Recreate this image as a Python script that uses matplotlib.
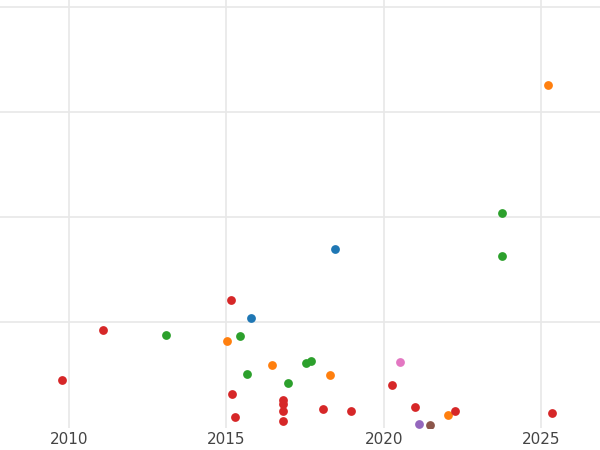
import matplotlib
matplotlib.use("Agg")
import matplotlib.pyplot as plt

blue_x = [2018.45, 2015.78]
blue_y = [1.695, 1.038]
orange_x = [2025.21, 2015.02, 2016.44, 2018.29, 2022.03]
orange_y = [3.257, 0.819, 0.590, 0.495, 0.105]
green_x = [2023.75, 2023.75, 2013.08, 2015.43, 2015.65, 2017.52, 2017.68, 2016.95]
green_y = [2.038, 1.629, 0.876, 0.867, 0.505, 0.610, 0.629, 0.410]
red_x = [2009.78, 2011.08, 2015.14, 2015.18, 2015.27, 2016.79, 2016.79, 2016.79, 2016.79,
         2018.06, 2018.95, 2020.25, 2020.98, 2022.25, 2025.33]
red_y = [0.448, 0.924, 1.210, 0.314, 0.086, 0.257, 0.210, 0.152, 0.048,
         0.162, 0.143, 0.400, 0.181, 0.152, 0.124]
pink_x, pink_y = [2020.51], [0.619]
purple_x, purple_y = [2021.11], [0.019]
brown_x, brown_y = [2021.46], [0.010]

series = [(blue_x, blue_y, "#1f77b4"), (orange_x, orange_y, "#ff7f0e"),
          (green_x, green_y, "#2ca02c"), (red_x, red_y, "#d62728"),
          (pink_x, pink_y, "#e377c2"), (purple_x, purple_y, "#9467bd"),
          (brown_x, brown_y, "#8c564b")]

fig = plt.figure(figsize=(6, 4.5), dpi=100)
ax = fig.add_axes([0, 0.05, 1, 0.95])
for x, y, c in series:
    ax.scatter(x, y, s=40, color=c, zorder=3, clip_on=True, linewidths=0)
ax.set_xlim(2007.81, 2026.86)
ax.set_ylim(-0.01, 4.07)
ax.set_xticks([2010, 2015, 2020, 2025])
ax.set_yticks([1, 2, 3, 4])
ax.set_yticklabels([])
ax.tick_params(length=0, labelsize=11, colors="#444444", pad=3)
ax.grid(True, color="#e8e8e8", linewidth=1.2)
ax.set_axisbelow(True)
for s in ax.spines.values():
    s.set_visible(False)
fig.savefig("out.png", dpi=100)
